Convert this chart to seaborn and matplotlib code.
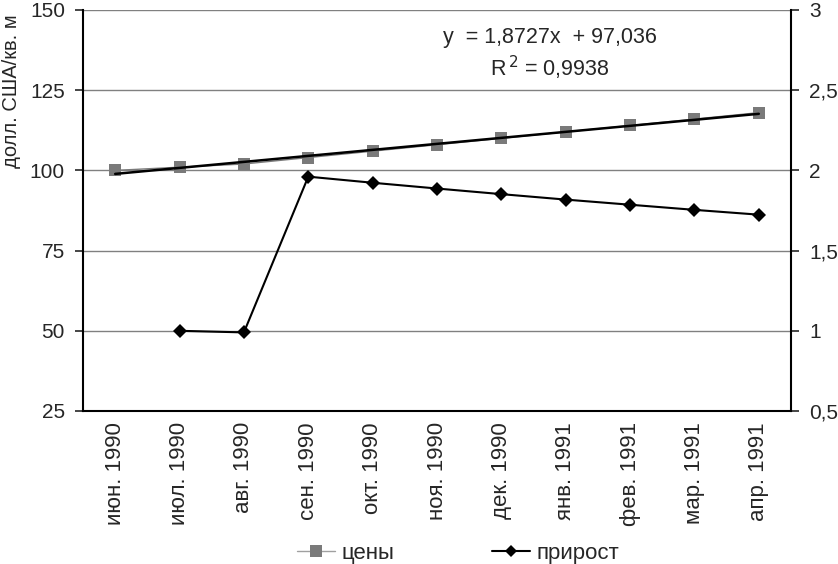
"""
Prices per sq. m and monthly growth, Jun 1990 - Apr 1991 (dual axis, Excel-like style).
"""
import numpy as np
import pandas as pd
import matplotlib
matplotlib.use('Agg')
import matplotlib.pyplot as plt
import seaborn as sns
from matplotlib.lines import Line2D

# Data
months = ['июн. 1990', 'июл. 1990', 'авг. 1990', 'сен. 1990', 'окт. 1990', 'ноя. 1990',
          'дек. 1990', 'янв. 1991', 'фев. 1991', 'мар. 1991', 'апр. 1991']
prices = [100, 101, 102, 104, 106, 108, 110, 112, 114, 116, 118]
growth = [np.nan, 1.0, 0.99, 1.961, 1.923, 1.887, 1.852, 1.818, 1.786, 1.754, 1.724]

left_ticks = [25, 50, 75, 100, 125, 150]
right_ticks = [0.5, 1.0, 1.5, 2.0, 2.5, 3.0]
right_labels = ['0,5', '1', '1,5', '2', '2,5', '3']

sns.set_style('white')
plt.rcParams['font.family'] = ['Liberation Sans', 'DejaVu Sans']

df = pd.DataFrame({'pos': np.arange(len(months)), 'prices': prices, 'growth': growth})

# Linear trend as Excel computes it (x = 1..n)
slope, intercept = np.polyfit(df['pos'] + 1, df['prices'], 1)
df['trend'] = slope * (df['pos'] + 1) + intercept

fig = plt.figure(figsize=(8.38, 5.64), dpi=100)
ax = fig.add_axes([83 / 838, 1 - 411 / 564, (791 - 83) / 838, (411 - 10) / 564])
ax2 = ax.twinx()

gray = '#7a7a7a'

# Prices (left axis)
sns.lineplot(data=df, x='pos', y='prices', ax=ax, color=gray, lw=1, marker='s',
             markersize=9, markeredgewidth=0, zorder=3)
sns.lineplot(data=df, x='pos', y='trend', ax=ax, color='black', lw=1.8, zorder=4)

# Growth (right axis)
sns.lineplot(data=df, x='pos', y='growth', ax=ax2, color='black', lw=1.5, marker='D',
             markersize=7, markeredgewidth=0, zorder=3)

ax.set_xlim(-0.5, len(months) - 0.5)
ax.set_ylim(25, 150)
ax2.set_ylim(0.5, 3)

ax.set_yticks(left_ticks)
ax.set_yticklabels([str(t) for t in left_ticks], fontsize=15)
ax2.set_yticks(right_ticks)
ax2.set_yticklabels(right_labels, fontsize=15)

ax.set_xticks(df['pos'])
ax.set_xticklabels(months, rotation=90, fontsize=16)
ax.set_xticks(np.arange(-0.5, len(months)), minor=True)
ax.tick_params(axis='x', which='major', length=0, pad=8)
ax.tick_params(axis='x', which='minor', length=6, width=1.2, direction='out')
ax.tick_params(axis='y', length=6, width=1.2, direction='out', pad=7)
ax2.tick_params(axis='y', length=6, width=1.2, direction='out', pad=7)

ax.set_xlabel('')
ax.set_ylabel('')
ax2.set_ylabel('')

ax.grid(True, axis='y', color='#808080', lw=1)
ax.set_axisbelow(True)

for a in (ax, ax2):
    a.spines['top'].set_visible(False)
    for s in ('left', 'right', 'bottom'):
        a.spines[s].set_color('black')
        a.spines[s].set_linewidth(1.5)
ax.spines['right'].set_visible(False)
ax2.spines['left'].set_visible(False)
ax2.spines['bottom'].set_visible(False)

# Trend equation
eq = f'y  = {slope:.4f}x  + {intercept:.3f}'.replace('.', ',')
fig.text(550 / 838, 1 - 37 / 564, eq, fontsize=15.5, ha='center', va='center')
fig.text(550 / 838, 1 - 68 / 564, r'R$^{\,2}$ = 0,9938', fontsize=15.5, ha='center', va='center')

# Left axis title
fig.text(12 / 838, 1 - 168 / 564, 'долл. США/кв. м', rotation=90, fontsize=14.5,
         ha='center', va='bottom')

handles = [Line2D([], [], color='#a0a0a0', lw=1, marker='s', markersize=9,
                  markerfacecolor=gray, markeredgewidth=0),
           Line2D([], [], color='black', lw=1.5, marker='D', markersize=6, markeredgewidth=0)]
fig.legend(handles, ['цены', 'прирост'], loc='center', bbox_to_anchor=(458 / 838, 1 - 553 / 564),
           ncol=2, frameon=False, fontsize=16, handlelength=1.7, columnspacing=4.4,
           handletextpad=0.3, borderpad=0.1)

fig.savefig('out.png', dpi=100)
